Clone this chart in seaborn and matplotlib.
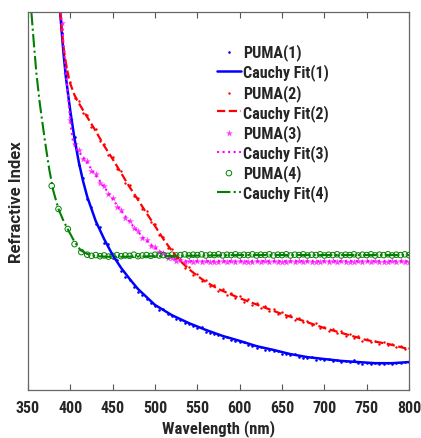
import matplotlib
matplotlib.use("Agg")
import matplotlib.pyplot as plt
import numpy as np
import seaborn as sns

# wavelength grid of the measured PUMA points (nm)
wl_data = np.arange(390, 801, 5)

# PUMA(1) measured values
puma1 = [2.345, 2.230, 2.130, 2.070, 1.995, 1.960, 1.905, 1.885, 1.840, 1.830,
         1.790, 1.785, 1.748, 1.745, 1.715, 1.700, 1.690, 1.672, 1.660, 1.652,
         1.640, 1.630, 1.622, 1.612, 1.615, 1.600, 1.596, 1.588, 1.585, 1.578,
         1.575, 1.570, 1.563, 1.566, 1.554, 1.552, 1.548, 1.545, 1.538, 1.541,
         1.532, 1.530, 1.527, 1.528, 1.518, 1.516, 1.512, 1.515, 1.506, 1.507,
         1.502, 1.504, 1.496, 1.494, 1.492, 1.494, 1.487, 1.486, 1.484, 1.487,
         1.480, 1.482, 1.479, 1.483, 1.476, 1.479, 1.474, 1.478, 1.473, 1.479,
         1.472, 1.470, 1.471, 1.469, 1.472, 1.470, 1.470, 1.471, 1.470, 1.471,
         1.472, 1.473, 1.474]

# PUMA(2) measured values
puma2 = [2.355, 2.255, 2.215, 2.172, 2.165, 2.132, 2.128, 2.096, 2.090, 2.060,
         2.052, 2.022, 2.016, 1.986, 1.980, 1.948, 1.942, 1.913, 1.908, 1.878,
         1.874, 1.844, 1.840, 1.809, 1.806, 1.776, 1.773, 1.748, 1.746, 1.724,
         1.725, 1.705, 1.707, 1.689, 1.691, 1.675, 1.678, 1.662, 1.667, 1.652,
         1.657, 1.643, 1.648, 1.634, 1.640, 1.626, 1.631, 1.617, 1.623, 1.609,
         1.615, 1.601, 1.606, 1.593, 1.598, 1.586, 1.591, 1.579, 1.583, 1.571,
         1.576, 1.564, 1.568, 1.557, 1.562, 1.550, 1.555, 1.544, 1.549, 1.538,
         1.542, 1.531, 1.536, 1.527, 1.531, 1.522, 1.527, 1.519, 1.522, 1.513,
         1.516, 1.508, 1.510]

# PUMA(3) measured values
puma3 = [2.370, 2.236, 2.115, 2.050, 2.035, 2.012, 2.006, 1.980, 1.972, 1.948,
         1.940, 1.918, 1.908, 1.885, 1.875, 1.856, 1.846, 1.828, 1.820, 1.803,
         1.798, 1.782, 1.778, 1.766, 1.762, 1.750, 1.748, 1.741, 1.743, 1.739,
         1.742, 1.738, 1.741, 1.739, 1.742, 1.738, 1.740, 1.739, 1.742, 1.738,
         1.741, 1.739, 1.742, 1.738, 1.740, 1.739, 1.742, 1.738, 1.741, 1.739,
         1.742, 1.738, 1.740, 1.739, 1.742, 1.738, 1.741, 1.739, 1.742, 1.738,
         1.740, 1.739, 1.742, 1.738, 1.741, 1.739, 1.742, 1.738, 1.740, 1.739,
         1.742, 1.738, 1.741, 1.739, 1.742, 1.738, 1.740, 1.739, 1.742, 1.738,
         1.741, 1.739, 1.740]

# PUMA(4) measured values (own wavelengths)
wl_puma4 = [378, 386, 397, 405, 413] + list(range(420, 801, 5))
puma4 = [1.940, 1.879, 1.826, 1.786, 1.765,
         1.758, 1.755, 1.757, 1.754, 1.756, 1.753, 1.755, 1.757, 1.754, 1.756,
         1.755, 1.758, 1.754, 1.756, 1.757, 1.755, 1.758, 1.756, 1.757, 1.755,
         1.758, 1.756, 1.757, 1.759, 1.756, 1.758, 1.757, 1.759, 1.756, 1.758,
         1.757, 1.759, 1.756, 1.758, 1.757, 1.759, 1.756, 1.758, 1.757, 1.759,
         1.756, 1.758, 1.757, 1.759, 1.756, 1.758, 1.757, 1.759, 1.756, 1.758,
         1.757, 1.759, 1.756, 1.758, 1.757, 1.759, 1.756, 1.758, 1.757, 1.759,
         1.756, 1.758, 1.757, 1.759, 1.756, 1.758, 1.757, 1.759, 1.756, 1.758,
         1.757, 1.759, 1.756, 1.758, 1.757, 1.759, 1.757]

# Cauchy fits, read at knots
fit1_wl = [388, 390, 392, 395, 400, 405, 410, 415, 420, 430, 440, 450, 460, 470,
           480, 490, 500, 520, 540, 560, 580, 600, 620, 640, 660, 680, 700, 720,
           740, 760, 780, 800]
fit1 = [2.400, 2.342, 2.289, 2.223, 2.138, 2.064, 2.003, 1.953, 1.911, 1.847,
        1.799, 1.757, 1.723, 1.694, 1.667, 1.646, 1.625, 1.598, 1.577, 1.559,
        1.543, 1.530, 1.516, 1.506, 1.495, 1.487, 1.482, 1.477, 1.474, 1.471,
        1.471, 1.474]

fit2_wl = [388, 390, 392, 394, 396, 398, 400, 405, 410, 420, 430, 440, 450, 460,
           470, 480, 490, 500, 510, 520, 530, 540, 550, 560, 575, 600, 625, 650,
           675, 700, 725, 750, 775, 800]
fit2 = [2.400, 2.350, 2.307, 2.276, 2.249, 2.228, 2.210, 2.180, 2.159, 2.122,
        2.085, 2.046, 2.011, 1.974, 1.937, 1.903, 1.868, 1.834, 1.799, 1.768,
        1.741, 1.720, 1.702, 1.686, 1.667, 1.643, 1.622, 1.601, 1.583, 1.564,
        1.548, 1.532, 1.522, 1.508]

fit3_wl = [389, 392, 395, 398, 401, 403, 406, 410, 415, 420, 427, 439, 450, 462,
           474, 486, 498, 510, 521, 532, 600, 700, 800]
fit3 = [2.400, 2.315, 2.236, 2.157, 2.090, 2.059, 2.043, 2.030, 2.016, 2.001,
        1.977, 1.940, 1.905, 1.868, 1.834, 1.803, 1.779, 1.760, 1.747, 1.741,
        1.741, 1.741, 1.741]

fit4_wl = [354, 357, 360, 364, 370, 375, 380, 386, 392, 398, 405, 412, 420, 430,
           450, 500, 600, 700, 800]
fit4 = [2.400, 2.315, 2.236, 2.157, 2.059, 1.985, 1.926, 1.879, 1.847, 1.821,
        1.792, 1.770, 1.760, 1.754, 1.752, 1.754, 1.757, 1.757, 1.757]

sns.set_style('white')
plt.rcParams['font.family'] = ['Roboto Condensed', 'DejaVu Sans']
plt.rcParams['font.weight'] = 'bold'

fig = plt.figure(figsize=(4.21, 4.39), dpi=100)
ax = fig.add_axes([0.0665, 0.1093, 0.905, 0.861])

blue = '#0000ff'
red = '#ff0000'
mag = '#ff00ff'
green = '#008000'

sns.scatterplot(x=wl_data, y=puma1, ax=ax, color=blue, marker='.', s=14,
                linewidth=0, label='PUMA(1)')
sns.lineplot(x=fit1_wl, y=fit1, ax=ax, color=blue, linewidth=1.8, sort=False,
             label='Cauchy Fit(1)')
sns.scatterplot(x=wl_data, y=puma2, ax=ax, color=red, marker='.', s=12,
                linewidth=0, label='PUMA(2)')
sns.lineplot(x=fit2_wl, y=fit2, ax=ax, color=red, linewidth=1.6, linestyle='--',
             sort=False, label='Cauchy Fit(2)')
sns.scatterplot(x=wl_data, y=puma3, ax=ax, color=mag, marker='*', s=28,
                linewidth=0, alpha=0.75, label='PUMA(3)')
sns.lineplot(x=fit3_wl, y=fit3, ax=ax, color=mag, linewidth=1.5, linestyle=':',
             sort=False, label='Cauchy Fit(3)')
sns.scatterplot(x=wl_puma4, y=puma4, ax=ax, marker='o', s=16, facecolor='none',
                edgecolor=green, linewidth=0.7, label='PUMA(4)')
sns.lineplot(x=fit4_wl, y=fit4, ax=ax, color=green, linewidth=1.5, linestyle='-.',
             sort=False, label='Cauchy Fit(4)')

ax.set_xlim(350, 800)
ax.set_ylim(1.40, 2.40)
ax.set_xticks(range(350, 801, 50))
ax.set_yticks([])
ax.tick_params(axis='x', direction='in', top=True, bottom=True, length=4,
               width=0.8, color='#555555', labelsize=11.5, pad=7)
for lab in ax.get_xticklabels():
    lab.set_fontweight('bold')
for sp in ax.spines.values():
    sp.set_color('#666666')
    sp.set_linewidth(0.9)

ax.set_xlabel('Wavelength (nm)', fontsize=12, fontweight='bold', labelpad=3)
ax.set_ylabel('Refractive Index', fontsize=12, fontweight='bold', labelpad=3,
              family=['Roboto', 'DejaVu Sans'])

leg = ax.legend(loc='upper left', bbox_to_anchor=(0.496, 0.917), frameon=False,
                fontsize=11.5, handlelength=1.5, handletextpad=0.15,
                labelspacing=0.2, borderaxespad=0, borderpad=0)
for t in leg.get_texts():
    t.set_fontweight('bold')

fig.savefig('out.png', dpi=100)
